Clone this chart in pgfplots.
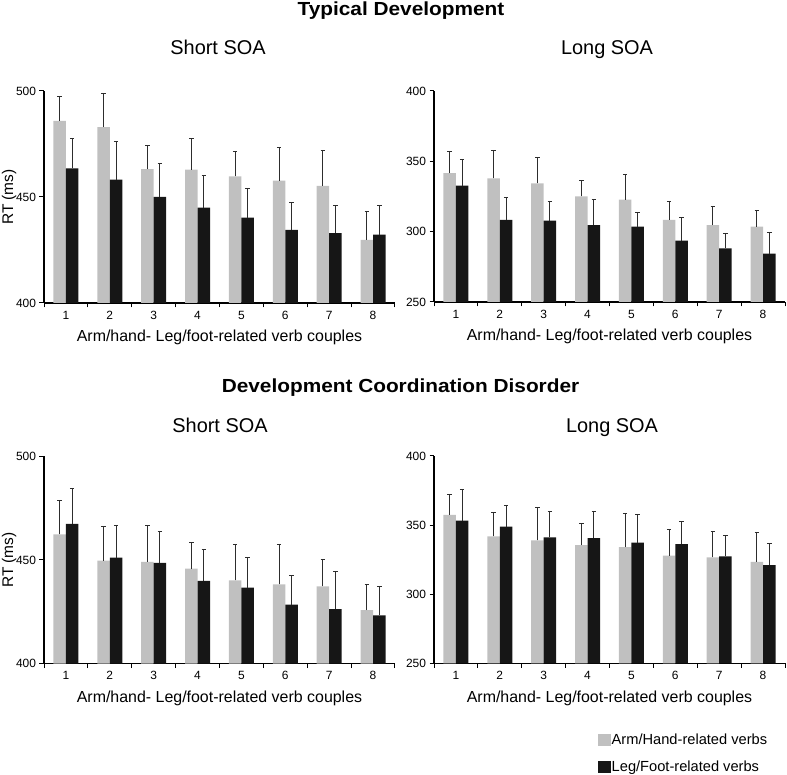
\documentclass[border=0pt]{standalone}
\usepackage{pgfplots}
\pgfplotsset{compat=1.18}
\usepackage{fontspec}
\setmainfont{Liberation Sans}
\definecolor{gbar}{RGB}{192,192,192}
\definecolor{kbar}{RGB}{22,22,22}
\definecolor{ebar}{RGB}{45,45,45}
\pgfplotsset{
 panel/.style={
  scale only axis, width=351bp,
  xmin=0.5, xmax=8.5,
  axis x line*=bottom, axis y line*=left,
  axis line style={line width=1.2bp,-,black},
  xtick={1,...,8}, minor xtick={0.5,1.5,...,8.5},
  major x tick style={draw=none},
  tick align=outside, major tick length=4.5bp, minor tick length=4.5bp,
  tick style={line width=1bp,black},
  ticklabel style={font=\fontsize{12}{14}\selectfont},
  /pgf/number format/assume math mode=true,
  ybar=0pt, bar width=12.5bp,
  xlabel={Arm/hand- Leg/foot-related verb couples},
  xlabel style={font=\fontsize{16}{18}\selectfont, at={(axis description cs:0.5,0)}, anchor=base, yshift=-38.7bp},
  ylabel style={font=\fontsize{15.5}{17}\selectfont, at={(axis description cs:-0.0883,0.5)}, anchor=base},
 },
 errs/.style={error bars/.cd, y dir=plus, y explicit,
   error bar style={line width=1bp, ebar},
   error mark options={rotate=90, line width=1bp, ebar, mark size=2.3bp}},
 gb/.style={fill=gbar, draw=none, forget plot, bar shift=-6.25bp},
 kb/.style={fill=kbar, draw=none, forget plot, bar shift=6.25bp},
}
\begin{document}
\begin{tikzpicture}
\path[use as bounding box] (0,0) rectangle (787bp,775bp);

\node[font=\fontsize{19}{22}\selectfont\bfseries, anchor=base, xscale=1.1] at (401bp,759.5bp) {Typical Development};
\node[font=\fontsize{20}{22}\selectfont, anchor=base] at (218bp,720bp) {Short SOA};
\node[font=\fontsize{20}{22}\selectfont, anchor=base] at (607bp,720bp) {Long SOA};
\node[font=\fontsize{19}{22}\selectfont\bfseries, anchor=base, xscale=1.1] at (400.5bp,382.3bp) {Development Coordination Disorder};
\node[font=\fontsize{20}{22}\selectfont, anchor=base] at (220bp,342bp) {Short SOA};
\node[font=\fontsize{20}{22}\selectfont, anchor=base] at (612bp,342bp) {Long SOA};

% Typical Development - Short SOA
\begin{axis}[panel, at={(44bp,472bp)}, anchor=south west, height=212bp,
  ymin=400, ymax=500, ytick={400,450,500}, ylabel={RT (ms)}]
\addplot[gb, errs] table[x index=0, y index=1, y error index=2] {
1 485.9 11.6
2 482.9 15.7
3 463.2 11.3
4 462.9 14.5
5 459.7 11.9
6 457.7 15.7
7 455.2 16.9
8 429.8 13.3
};
\addplot[kb, errs] table[x index=0, y index=1, y error index=2] {
1 463.5 13.9
2 458.2 18.1
3 450.0 15.8
4 445.0 15.0
5 440.3 13.6
6 434.5 12.7
7 432.9 12.9
8 432.2 13.6
};
\end{axis}

% Typical Development - Long SOA
\begin{axis}[panel, at={(434bp,473bp)}, anchor=south west, height=211bp,
  ymin=250, ymax=400, ytick={250,300,350,400}]
\addplot[gb, errs] table[x index=0, y index=1, y error index=2] {
1 341.7 15.4
2 337.9 19.7
3 334.4 18.2
4 325.1 11.2
5 322.8 17.5
6 308.3 12.8
7 304.7 13.5
8 303.6 11.3
};
\addplot[kb, errs] table[x index=0, y index=1, y error index=2] {
1 332.7 18.7
2 308.3 16.1
3 307.8 13.3
4 304.7 18.3
5 303.6 10.1
6 293.6 16.6
7 288.1 10.9
8 284.3 15.2
};
\end{axis}

% DCD - Short SOA
\begin{axis}[panel, at={(44bp,111.5bp)}, anchor=south west, height=207bp,
  ymin=400, ymax=500, ytick={400,450,500}, ylabel={RT (ms)}]
\addplot[gb, errs] table[x index=0, y index=1, y error index=2] {
1 462.4 16.4
2 449.7 16.3
3 449.1 17.4
4 445.8 12.6
5 440.2 17.4
6 438.2 19.4
7 437.2 12.8
8 425.8 12.5
};
\addplot[kb, errs] table[x index=0, y index=1, y error index=2] {
1 467.4 17.1
2 451.1 15.7
3 448.6 15.3
4 439.9 15.2
5 436.7 14.6
6 428.5 14.1
7 426.3 18.0
8 423.3 13.7
};
\end{axis}

% DCD - Long SOA
\begin{axis}[panel, at={(434bp,111.7bp)}, anchor=south west, height=207.3bp,
  ymin=250, ymax=400, ytick={250,300,350,400},
  legend style={at={(0.467,-0.331)}, anchor=north west, draw=none, fill=none,
    inner sep=0pt, font=\fontsize{14.7}{16}\selectfont, row sep=12bp,
    nodes={inner sep=1.5bp}},
  legend cell align=left]
\addlegendimage{legend image code/.code={\fill[gbar] (-1bp,-5.8bp) rectangle (10.7bp,5.8bp);}}
\addlegendentry{Arm/Hand-related verbs}
\addlegendimage{legend image code/.code={\fill[kbar] (-1bp,-5.8bp) rectangle (10.7bp,5.8bp);}}
\addlegendentry{Leg/Foot-related verbs}
\addplot[gb, errs] table[x index=0, y index=1, y error index=2] {
1 357.4 14.5
2 341.8 17.6
3 339.0 23.9
4 335.5 15.4
5 334.0 24.6
6 327.9 19.1
7 326.7 18.7
8 323.4 21.3
};
\addplot[kb, errs] table[x index=0, y index=1, y error index=2] {
1 353.2 22.5
2 348.9 15.6
3 341.1 18.9
4 340.6 19.0
5 337.4 20.5
6 336.2 16.3
7 327.4 14.9
8 321.0 15.7
};
\end{axis}
\end{tikzpicture}
\end{document}
